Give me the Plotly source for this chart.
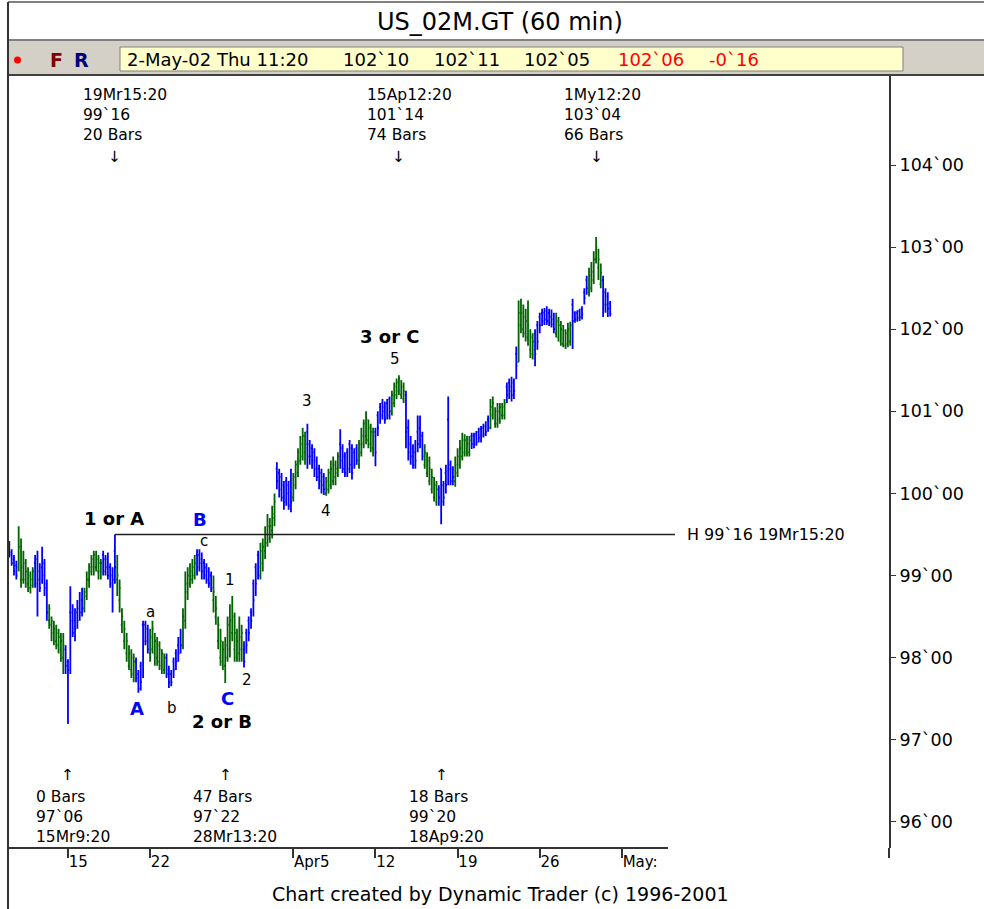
import plotly.graph_objects as go

# US_02M.GT, 60 min bars from 11-Mar-02 12:20 to 2-May-02 11:20
# (7 bars a day, 9:20..15:20; 1-Apr has 5 bars, 2-May only 3 so far)
bar_open = [
    99.38, 99.28, 99.2, 99.12,
    99.1, 98.95, 98.95, 98.95, 98.9, 98.85, 98.88,
    99.15, 99.2, 99.05, 99.1, 99.15, 98.9, 98.45,
    98.4, 98.3, 98.2, 98.15, 98.1, 98.0, 98.1,
    97.95, 98.55, 98.55, 98.45, 98.55, 98.6, 98.7,
    98.6, 98.75, 98.95, 99.05, 99.1, 99.1, 99.05,
    99.05, 99.25, 99.2, 99.2, 99.1, 99.0, 99.3,
    98.95, 98.7, 98.4, 98.2, 98.05, 97.9, 97.85,
    97.8, 97.95, 97.8, 97.9, 98.4, 98.4, 98.35,
    98.05, 98.1, 98.05, 98.0, 97.95, 97.9, 97.85,
    98.0, 97.85, 97.8, 97.95, 98.05, 98.15, 98.25,
    98.15, 98.45, 98.8, 98.9, 98.95, 99.0, 99.25,
    99.25, 99.2, 99.15, 99.1, 99.05, 99.0, 98.7,
    98.5, 98.2, 98.0, 97.95, 97.9, 98.0, 98.1,
    98.3, 98.1, 98.0, 98.05, 98.1,
    98.1, 98.3, 98.45, 98.55, 98.9, 99.1, 99.25,
    99.0, 99.15, 99.3, 99.4, 99.45, 99.55, 99.7,
    100.3, 100.25, 100.2, 100.1, 100.15, 100.1, 100.15,
    99.95, 100.1, 100.25, 100.4, 100.45, 100.5, 100.75,
    100.6, 100.55, 100.5, 100.4, 100.3, 100.25, 100.2,
    100.0, 100.05, 100.1, 100.15, 100.2, 100.25, 100.6,
    100.55, 100.45, 100.5, 100.6, 100.55, 100.5, 100.55,
    100.35, 100.5, 100.6, 100.7, 100.65, 100.6, 100.55,
    100.75, 100.95, 101.05, 101.1, 101.05, 101.1, 101.15,
    101.0, 101.1, 101.2, 101.25, 101.2, 101.15, 101.2,
    100.8, 100.6, 100.55, 100.5, 100.75, 100.8, 100.7,
    100.35, 100.25, 100.15, 100.05, 99.95, 99.9, 100.05,
    100.3, 100.1, 100.25, 100.9, 100.35, 100.3, 100.15,
    100.25, 100.35, 100.45, 100.5, 100.5, 100.5, 100.7,
    100.7, 100.72, 100.75, 100.78, 100.8, 100.82, 100.9,
    100.8, 100.95, 100.85, 100.85, 100.9, 100.95, 100.95,
    101.3, 101.35, 101.3, 101.35, 101.7, 101.6, 102.05,
    102.0, 101.95, 101.9, 101.75, 101.7, 101.95, 102.05,
    102.15, 102.2, 102.2, 102.22, 102.2, 102.15, 102.12,
    101.95, 101.9, 101.85, 101.82, 101.8, 101.82, 101.85,
    102.3, 102.2, 102.2, 102.22, 102.25, 102.45, 102.6,
    102.45, 102.5, 102.6, 102.85, 102.75, 102.55, 102.6,
    102.45, 102.4, 102.3125,
]
bar_high = [
    99.42, 99.32, 99.25, 99.18,
    99.6, 99.45, 99.3, 99.2, 99.1, 99.05, 99.1,
    99.25, 99.3, 99.15, 99.35, 99.2, 98.95, 98.65,
    98.5, 98.45, 98.4, 98.35, 98.3, 98.3, 98.15,
    97.98, 98.87, 98.65, 98.6, 98.7, 98.8, 98.85,
    98.85, 99.05, 99.15, 99.25, 99.3, 99.3, 99.25,
    99.2, 99.3, 99.25, 99.28, 99.15, 99.1, 99.5,
    99.25, 98.95, 98.6, 98.45, 98.3, 98.15, 98.1,
    98.05, 98.0, 97.85, 97.95, 98.45, 98.45, 98.4,
    98.35, 98.45, 98.3, 98.25, 98.2, 98.1, 98.05,
    98.05, 97.9, 97.85, 98.0, 98.1, 98.25, 98.35,
    98.6, 99.05, 99.1, 99.15, 99.2, 99.25, 99.32,
    99.32, 99.28, 99.2, 99.15, 99.1, 99.05, 99.0,
    98.75, 98.5, 98.35, 98.2, 98.25, 98.5, 98.65,
    98.75, 98.55, 98.35, 98.5, 98.4,
    98.2, 98.35, 98.5, 98.6, 98.95, 99.15, 99.3,
    99.4, 99.45, 99.6, 99.75, 99.7, 99.85, 100.0,
    100.38, 100.3, 100.25, 100.15, 100.2, 100.15, 100.3,
    100.25, 100.4, 100.55, 100.7, 100.8, 100.75, 100.85,
    100.65, 100.6, 100.55, 100.45, 100.35, 100.3, 100.25,
    100.2, 100.3, 100.4, 100.45, 100.4, 100.5, 100.78,
    100.6, 100.5, 100.55, 100.65, 100.6, 100.55, 100.6,
    100.65, 100.8, 100.9, 101.0, 100.9, 100.85, 100.8,
    100.8, 101.0, 101.1, 101.15, 101.12, 101.15, 101.18,
    101.25, 101.35, 101.4, 101.44, 101.38, 101.35, 101.25,
    100.9, 100.7, 100.6, 100.65, 100.95, 100.95, 100.75,
    100.6, 100.5, 100.45, 100.3, 100.2, 100.15, 100.1,
    100.3, 100.15, 100.35, 101.18, 100.4, 100.33, 100.45,
    100.55, 100.65, 100.74, 100.72, 100.7, 100.7, 100.74,
    100.74, 100.76, 100.8, 100.82, 100.85, 100.88, 100.95,
    101.15, 101.18, 101.05, 101.1, 101.1, 101.1, 101.15,
    101.35, 101.4, 101.42, 101.4, 101.79, 102.35, 102.37,
    102.3, 102.25, 102.35, 102.0, 101.95, 102.0, 102.1,
    102.2, 102.25, 102.26, 102.28, 102.25, 102.24, 102.2,
    102.2, 102.15, 102.1, 102.05, 102.0, 102.08, 102.09,
    102.37, 102.22, 102.23, 102.25, 102.28, 102.5, 102.65,
    102.75, 102.82, 102.95, 103.125, 102.98, 102.8, 102.65,
    102.5, 102.45, 102.34375,
]
bar_low = [
    99.22, 99.12, 99.0, 98.95,
    99.05, 98.85, 98.9, 98.85, 98.8, 98.78, 98.85,
    98.85, 98.5, 98.8, 98.9, 98.75, 98.45, 98.35,
    98.2, 98.15, 98.1, 98.05, 97.95, 97.8, 97.8,
    97.19, 97.8, 98.25, 98.2, 98.35, 98.45, 98.5,
    98.55, 98.7, 98.85, 99.0, 99.0, 99.05, 98.95,
    98.95, 99.0, 99.0, 98.95, 98.85, 98.55, 98.9,
    98.75, 98.55, 98.3, 98.1, 97.95, 97.85, 97.75,
    97.7, 97.7, 97.57, 97.6, 97.75, 98.15, 98.05,
    97.95, 98.05, 97.9, 97.9, 97.85, 97.8, 97.8,
    97.75, 97.63, 97.65, 97.75, 97.85, 97.95, 98.05,
    98.1, 98.35, 98.7, 98.85, 98.9, 98.95, 99.0,
    99.05, 98.95, 98.95, 98.9, 98.85, 98.8, 98.55,
    98.4, 98.1, 97.9, 97.85, 97.69, 97.95, 98.0,
    98.2, 97.95, 97.95, 97.95, 97.95,
    97.88, 98.05, 98.2, 98.35, 98.5, 98.75, 98.95,
    98.95, 99.05, 99.2, 99.35, 99.4, 99.45, 99.6,
    100.05, 99.95, 99.9, 99.8, 99.85, 99.8, 99.77,
    99.9, 100.05, 100.2, 100.35, 100.4, 100.35, 100.3,
    100.35, 100.3, 100.2, 100.15, 100.05, 100.0, 99.98,
    99.97, 100.0, 100.05, 100.1, 100.1, 100.2, 100.3,
    100.25, 100.2, 100.2, 100.25, 100.17, 100.3, 100.35,
    100.3, 100.45, 100.55, 100.6, 100.55, 100.5, 100.45,
    100.33, 100.7, 100.85, 100.9, 100.85, 100.9, 100.9,
    100.95, 101.05, 101.15, 101.2, 101.15, 101.1, 100.55,
    100.4, 100.35, 100.3, 100.3, 100.5, 100.55, 100.4,
    100.3, 100.2, 100.1, 100.0, 99.9, 99.85, 99.85,
    99.625, 99.85, 100.0, 100.1, 100.1, 100.1, 100.08,
    100.2, 100.3, 100.4, 100.45, 100.45, 100.45, 100.54,
    100.55, 100.58, 100.62, 100.62, 100.68, 100.7, 100.75,
    100.78, 100.9, 100.8, 100.8, 100.85, 100.9, 100.9,
    101.1, 101.15, 101.12, 101.15, 101.39, 101.6, 101.95,
    101.9, 101.85, 101.8, 101.65, 101.63, 101.55, 101.75,
    101.95, 102.04, 102.05, 102.05, 102.04, 102.02, 101.95,
    101.9, 101.85, 101.8, 101.78, 101.76, 101.78, 101.8,
    101.76, 102.08, 102.09, 102.1, 102.12, 102.3, 102.42,
    102.4, 102.45, 102.55, 102.8, 102.6, 102.5, 102.15,
    102.2, 102.15, 102.15625,
]
bar_close = [
    99.25, 99.15, 99.05, 99.0,
    99.35, 99.1, 99.15, 99.05, 99.0, 98.95, 99.05,
    98.9, 98.95, 98.85, 99.0, 98.85, 98.55, 98.6,
    98.45, 98.35, 98.3, 98.25, 98.2, 98.15, 97.9,
    97.85, 98.45, 98.3, 98.35, 98.45, 98.55, 98.6,
    98.8, 98.95, 99.1, 99.2, 99.25, 99.2, 99.15,
    99.15, 99.05, 99.1, 99.0, 98.9, 98.95, 99.1,
    99.0, 98.85, 98.5, 98.35, 98.2, 98.05, 98.0,
    97.95, 97.75, 97.62, 97.7, 98.2, 98.2, 98.1,
    98.25, 98.35, 98.2, 98.15, 98.1, 98.05, 98.0,
    97.8, 97.7, 97.7, 97.85, 97.95, 98.05, 98.15,
    98.5, 98.9, 99.0, 99.05, 99.1, 99.15, 99.1,
    99.15, 99.05, 99.0, 98.95, 98.9, 98.85, 98.8,
    98.6, 98.4, 98.2, 98.1, 98.15, 98.4, 98.45,
    98.5, 98.3, 98.2, 98.25, 98.3,
    97.95, 98.15, 98.3, 98.45, 98.7, 98.9, 99.1,
    99.3, 99.35, 99.5, 99.6, 99.6, 99.75, 99.9,
    100.15, 100.05, 99.95, 99.9, 100.0, 99.85, 99.9,
    100.2, 100.35, 100.5, 100.6, 100.7, 100.6, 100.45,
    100.45, 100.4, 100.3, 100.2, 100.15, 100.1, 100.05,
    100.15, 100.25, 100.3, 100.35, 100.3, 100.45, 100.4,
    100.3, 100.25, 100.3, 100.35, 100.25, 100.35, 100.4,
    100.6, 100.7, 100.85, 100.9, 100.8, 100.75, 100.7,
    100.5, 100.8, 100.95, 101.0, 100.9, 100.95, 101.0,
    101.2, 101.3, 101.35, 101.4, 101.3, 101.25, 100.75,
    100.5, 100.45, 100.35, 100.4, 100.6, 100.65, 100.45,
    100.5, 100.4, 100.3, 100.2, 100.1, 100.05, 99.95,
    99.9, 99.95, 100.1, 100.3, 100.15, 100.2, 100.35,
    100.45, 100.55, 100.65, 100.65, 100.6, 100.65, 100.6,
    100.6, 100.62, 100.68, 100.7, 100.72, 100.75, 100.8,
    101.05, 101.1, 101.0, 101.0, 101.05, 101.05, 101.1,
    101.2, 101.25, 101.2, 101.25, 101.55, 102.2, 102.2,
    102.15, 102.1, 102.05, 101.9, 101.85, 101.7, 101.85,
    102.05, 102.1, 102.12, 102.1, 102.08, 102.06, 102.0,
    102.1, 102.05, 102.0, 101.98, 101.95, 102.0, 102.05,
    102.1, 102.12, 102.14, 102.15, 102.18, 102.38, 102.5,
    102.65, 102.7, 102.85, 103.0, 102.85, 102.69, 102.3,
    102.3, 102.25, 102.1875,
]

# weekly (Friday) date ticks, as bar numbers
tick_bars = [25, 60, 121, 156, 191, 226, 261]
tick_labels = ["15", "22", "Apr5", "12", "19", "26", "May:"]

price_ticks = [96, 97, 98, 99, 100, 101, 102, 103, 104]
price_labels = ["%d`00" % p for p in price_ticks]

# swing pivots marked on the chart
top_bars = [45, 166, 250]
top_dates = ["19Mr15:20", "15Ap12:20", "1My12:20"]
top_prices = ["99`16", "101`14", "103`04"]
top_counts = ["20 Bars", "74 Bars", "66 Bars"]

low_bars = [25, 92, 184]
low_dates = ["15Mr9:20", "28Mr13:20", "18Ap9:20"]
low_prices = ["97`06", "97`22", "99`20"]
low_counts = ["0 Bars", "47 Bars", "18 Bars"]

hline_price = 99.5
hline_text = "H 99`16 19Mr15:20"

quote = ["2-May-02 Thu 11:20", "102`10", "102`11", "102`05", "102`06", "-0`16"]

# page geometry (pixels)
W, H = 984, 909
L, R, T, B = 8, 889, 76, 848
X_RANGE = [-0.55, 374.8]
Y_RANGE = [95.68, 105.085]
FONT = "DejaVu Sans"
GREEN = "#006400"
BLUE = "#0000ff"
AXIS = "#333333"


def px(x):
    return (x - L) / (R - L)


def py(y):
    return (B - y) / (B - T)


def bar_at(x):
    # pixel -> bar number on this chart's x scale
    return X_RANGE[0] + (x - L) / (R - L) * (X_RANGE[1] - X_RANGE[0])


def label(text, x, y, size, color="black", xanchor="center", yanchor="middle", **kw):
    return dict(text=text, xref="paper", yref="paper", x=px(x), y=py(y),
                xanchor=xanchor, yanchor=yanchor, showarrow=False,
                font=dict(family=FONT, size=size, color=color), **kw)


fig = go.Figure()
fig.add_trace(go.Ohlc(
    x=list(range(len(bar_open))),
    open=bar_open, high=bar_high, low=bar_low, close=bar_close,
    increasing=dict(line=dict(color=GREEN, width=1.8)),
    decreasing=dict(line=dict(color=BLUE, width=1.8)),
    tickwidth=0.5, hoverinfo="skip", showlegend=False))

shapes = []
annotations = []

# header: title, toolbar with last quote
shapes.append(dict(type="rect", xref="paper", yref="paper", x0=px(8), x1=px(984),
                   y0=py(75), y1=py(40), fillcolor="#d4d0c8", line_width=0, layer="below"))
shapes.append(dict(type="line", xref="paper", yref="paper", x0=px(8), x1=px(984),
                   y0=py(40), y1=py(40), line=dict(color="#808080", width=2)))
shapes.append(dict(type="line", xref="paper", yref="paper", x0=px(8), x1=px(984),
                   y0=py(2), y1=py(2), line=dict(color="#808080", width=2)))
shapes.append(dict(type="rect", xref="paper", yref="paper", x0=px(120), x1=px(903),
                   y0=py(71), y1=py(47), fillcolor="#ffffcc",
                   line=dict(color="#808080", width=1)))
shapes.append(dict(type="line", xref="paper", yref="paper", x0=px(8), x1=px(984),
                   y0=py(75), y1=py(75), line=dict(color="#404040", width=2)))
shapes.append(dict(type="circle", xref="paper", yref="paper", x0=px(14), x1=px(21),
                   y0=py(63.5), y1=py(56.5), fillcolor="red", line_width=0))
# frame and axes lines
shapes.append(dict(type="line", xref="paper", yref="paper", x0=0, x1=0,
                   y0=py(909), y1=py(2), line=dict(color=AXIS, width=2)))
shapes.append(dict(type="line", xref="x", yref="paper", x0=X_RANGE[0], x1=bar_at(668),
                   y0=0, y1=0, line=dict(color=AXIS, width=2)))
shapes.append(dict(type="line", xref="paper", yref="paper", x0=1, x1=1,
                   y0=py(858), y1=0, line=dict(color=AXIS, width=2)))
# 19Mr high line
shapes.append(dict(type="line", xref="x", yref="y", x0=top_bars[0], x1=bar_at(675),
                   y0=hline_price, y1=hline_price, line=dict(color="#202020", width=1.5)))

annotations.append(label("US_02M.GT (60 min)", 500, 22, 24))
annotations.append(label("<b>F</b>", 56, 60, 19, "#800000"))
annotations.append(label("<b>R</b>", 81, 60, 19, "#000080"))
quote_x = [125, 341, 432, 522, 616, 707]
quote_col = ["black", "black", "black", "black", "red", "red"]
for q, qx, qc in zip(quote, quote_x, quote_col):
    annotations.append(label(q, qx, 60, 18, qc, xanchor="left"))

annotations.append(label("Chart created by Dynamic Trader (c) 1996-2001", 500, 894, 19))

# pivot boxes
pfont = dict(family=FONT, size=15.5, color="black")
afont = dict(family=FONT, size=15.5, color="black")
for b, d, p, c in zip(top_bars, top_dates, top_prices, top_counts):
    annotations.append(dict(text="<br>".join([d, p, c]), xref="x", yref="paper",
                            x=b, xshift=-34, y=py(84), xanchor="left", yanchor="top",
                            align="left", showarrow=False, font=pfont))
    annotations.append(dict(text="\u2193", xref="x", yref="paper", x=b, y=py(146),
                            xanchor="center", yanchor="top", showarrow=False, font=afont))
for b, d, p, c in zip(low_bars, low_dates, low_prices, low_counts):
    annotations.append(dict(text="<br>".join([c, p, d]), xref="x", yref="paper",
                            x=b, xshift=-34, y=py(848), xanchor="left", yanchor="bottom",
                            align="left", showarrow=False, font=pfont))
    annotations.append(dict(text="\u2191", xref="x", yref="paper", x=b, y=py(786),
                            xanchor="center", yanchor="bottom", showarrow=False, font=afont))

annotations.append(dict(text=hline_text, xref="x", yref="y", x=bar_at(675), xshift=10,
                        y=hline_price, xanchor="left", yanchor="middle", showarrow=False,
                        font=dict(family=FONT, size=16, color="black")))

# wave count labels
bold_black = dict(family=FONT, size=18, color="black")
bold_blue = dict(family=FONT, size=18, color=BLUE)
small = dict(family=FONT, size=15, color="black")
wave_labels = [
    ("<b>1 or A</b>", 44.6, 99.70, bold_black),
    ("<b>2 or B</b>", 90.6, 97.22, bold_black),
    ("<b>3 or C</b>", 162.2, 101.91, bold_black),
    ("<b>A</b>", 54.4, 97.38, bold_blue),
    ("<b>B</b>", 81.2, 99.68, bold_blue),
    ("<b>C</b>", 92.8, 97.50, bold_blue),
    ("a", 60.0, 98.56, small),
    ("b", 69.3, 97.38, small),
    ("c", 83.0, 99.42, small),
    ("1", 94.0, 98.94, small),
    ("2", 101.3, 97.73, small),
    ("3", 126.8, 101.13, small),
    ("4", 134.9, 99.78, small),
    ("5", 164.3, 101.64, small),
]
for txt, bx, by, f in wave_labels:
    annotations.append(dict(text=txt, xref="x", yref="y", x=bx, y=by,
                            xanchor="center", yanchor="middle", showarrow=False, font=f))

fig.update_layout(
    width=W, height=H,
    margin=dict(l=L, r=W - R, t=T, b=H - B),
    paper_bgcolor="white", plot_bgcolor="white",
    showlegend=False,
    shapes=shapes, annotations=annotations,
    xaxis=dict(range=X_RANGE, rangeslider=dict(visible=False), showgrid=False,
               zeroline=False, showline=False, ticks="outside", ticklen=9,
               tickcolor=AXIS, tickwidth=1.5, tickvals=tick_bars, ticktext=tick_labels,
               ticklabelposition="outside right",
               tickfont=dict(family=FONT, size=15, color="black")),
    yaxis=dict(range=Y_RANGE, side="right", showgrid=False, zeroline=False,
               showline=True, linecolor=AXIS, linewidth=2, ticks="outside",
               ticklen=5, tickcolor=AXIS, tickvals=price_ticks, ticktext=price_labels,
               tickfont=dict(family=FONT, size=17.5, color="black")),
)

# the page body has a default 8px margin; drop it so the figure fills the window
fig.write_html("out.html", config={"displayModeBar": False},
               post_script="document.body.style.margin='0px';")
